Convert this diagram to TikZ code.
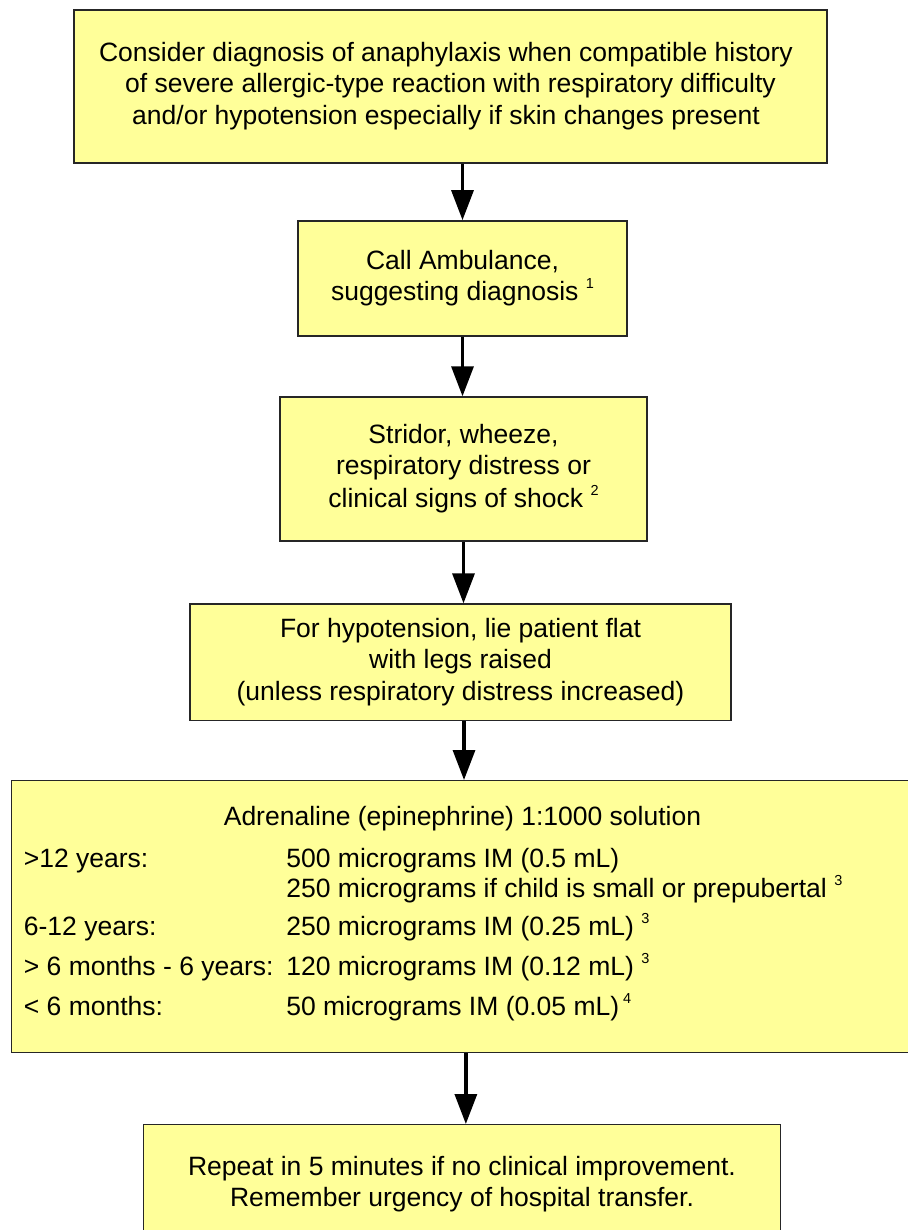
\documentclass[tikz,border=0pt]{standalone}
\usepackage{fontspec}
\setmainfont{Liberation Sans}
\usetikzlibrary{arrows.meta}
\definecolor{boxyellow}{HTML}{FFFF99}
\definecolor{boxline}{HTML}{262626}
\newcommand\bodyfont{\fontsize{26.5}{31.5}\selectfont}
\newcommand\fnote[1]{\raisebox{12pt}{\fontsize{14.5}{14.5}\selectfont #1}}
\tikzset{
  flowbox/.style={draw=boxline, line width=1.4pt, fill=boxyellow, inner sep=0pt, align=center, font=\bodyfont},
  boxtext/.style={inner sep=0pt, font=\bodyfont},
  arr/.style={draw=black, line width=3.3pt, -{Triangle[length=30pt,width=22pt]}}
}
\begin{document}
\begin{tikzpicture}[x=1pt,y=-1pt]
\useasboundingbox (0,0) rectangle (907,1230);

\node[flowbox, minimum width=752.7pt, minimum height=152.7pt] (b1) at (450.5,86.5)
  {\strut Consider diagnosis of anaphylaxis when compatible history\hspace*{9pt}\\
   \strut of severe allergic-type reaction with respiratory difficulty\hspace*{9pt}\\
   \strut and/or hypotension especially if skin changes present\hspace*{9pt}};

\node[flowbox, minimum width=328.7pt, minimum height=115.3pt] (b2) at (462.5,278.5)
  {\strut Call Ambulance,\\
   \strut suggesting diagnosis \fnote{1}};

\node[flowbox, minimum width=366.7pt, minimum height=144pt] (b3) at (463.5,469)
  {\strut Stridor, wheeze,\\
   \strut respiratory distress or\\
   \strut clinical signs of shock \fnote{2}};

\node[flowbox, minimum width=540.7pt, minimum height=116.7pt] (b4) at (460.5,662.4)
  {\strut For hypotension, lie patient flat\\
   \strut with legs raised\\
   \strut (unless respiratory distress increased)};

\node[flowbox, minimum width=904.3pt, minimum height=272pt] (b5) at (463.85,916.7) {};
\node[boxtext, anchor=base] (t0) at (462.5,825) {Adrenaline (epinephrine) 1:1000 solution};
\node[boxtext, anchor=base west] (l1) at (23.7,867.3) {>12 years:};
\node[boxtext, anchor=base west] (r1) at (286.2,867.3) {500 micrograms IM (0.5 mL)};
\node[boxtext, anchor=base west] (r1b) at (286.2,897.3) {250 micrograms if child is small or prepubertal \fnote{3}};
\node[boxtext, anchor=base west] (l2) at (23.7,935) {6-12 years:};
\node[boxtext, anchor=base west] (r2) at (286.2,935) {250 micrograms IM (0.25 mL) \fnote{3}};
\node[boxtext, anchor=base west] (l3) at (23.7,975) {> 6 months - 6 years:};
\node[boxtext, anchor=base west] (r3) at (286.2,975) {120 micrograms IM (0.12 mL) \fnote{3}};
\node[boxtext, anchor=base west] (l4) at (23.7,1015) {< 6 months:};
\node[boxtext, anchor=base west] (r4) at (286.2,1015) {50 micrograms IM (0.05 mL)\hspace{4pt}\fnote{4}};

\node[flowbox, minimum width=637.3pt, minimum height=119.6pt] (b6) at (462,1184.5)
  {\strut Repeat in 5 minutes if no clinical improvement.\\
   \strut Remember urgency of hospital transfer.};

\draw[arr] (b2.north |- b1.south) -- (b2.north);
\draw[arr] (b2.south) -- (b2.south |- b3.north);
\draw[arr] (b3.south) -- (b3.south |- b4.north);
\draw[arr] ([xshift=3.5pt]b4.south) -- ([xshift=3.5pt]b4.south |- b5.north);
\draw[arr] ([xshift=2pt]b5.south) -- ([xshift=2pt]b5.south |- b6.north);
\end{tikzpicture}
\end{document}
